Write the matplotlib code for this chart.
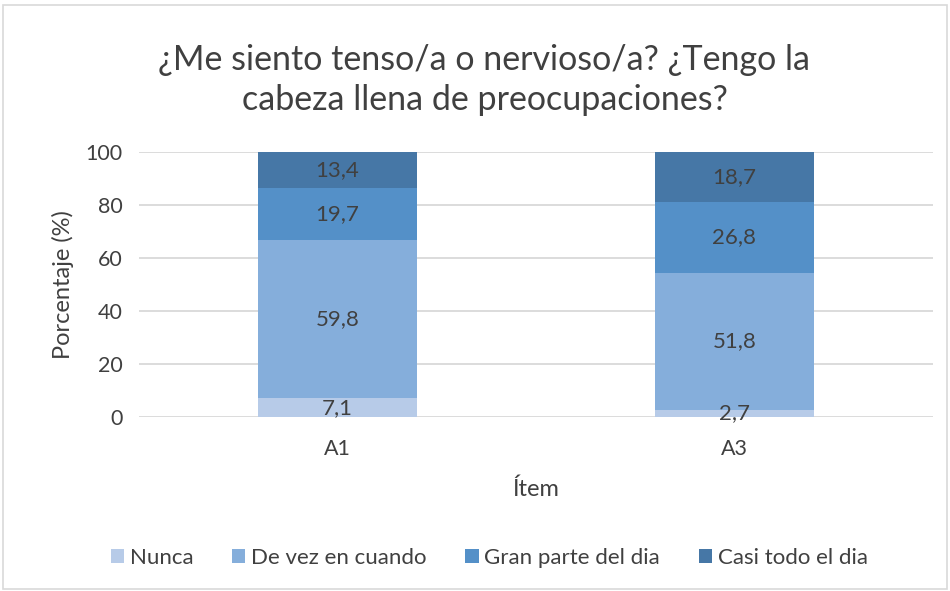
import numpy as np
import matplotlib.pyplot as plt
from matplotlib.patches import Rectangle

plt.rcParams['font.family'] = ['Lato', 'DejaVu Sans']

items = ['A1', 'A3']
series = ['Nunca', 'De vez en cuando', 'Gran parte del dia', 'Casi todo el dia']
nunca = [7.1, 2.7]
de_vez = [59.8, 51.8]
gran_parte = [19.7, 26.8]
casi_todo = [13.4, 18.7]
colors = ['#B7CBE8', '#85AEDB', '#5490C8', '#4677A6']

text_color = '#404040'

fig = plt.figure(figsize=(9.5, 5.91), dpi=100)
ax = fig.add_axes([0.1463, 0.2944, 0.8357, 0.4484])

x = np.arange(len(items))
bottom = np.zeros(len(items))
for name, vals, col in zip(series, [nunca, de_vez, gran_parte, casi_todo], colors):
    vals = np.array(vals)
    ax.bar(x, vals, width=0.4, bottom=bottom, color=col, label=name, zorder=3)
    for xi, b, v in zip(x, bottom, vals):
        ax.text(xi, b + v / 2, f'{v:.1f}'.replace('.', ','), ha='center', va='center',
                fontsize=16, color=text_color, zorder=4)
    bottom += vals

ax.set_xlim(-0.5, 1.5)
ax.set_ylim(0, 100)
ax.set_yticks(range(0, 101, 20))
ax.set_xticks(x)
ax.set_xticklabels(items)
ax.grid(axis='y', color='#D9D9D9', linewidth=1.3, zorder=0)
ax.tick_params(axis='both', length=0, labelsize=15.5, colors=text_color)
ax.tick_params(axis='x', pad=16)
ax.tick_params(axis='y', pad=12)
for s in ax.spines.values():
    s.set_visible(False)

ax.set_ylabel('Porcentaje (%)', fontsize=17, color=text_color, labelpad=8)
ax.set_xlabel('Ítem', fontsize=17, color=text_color, labelpad=14)

fig.text(0.51, 0.865, '¿Me siento tenso/a o nervioso/a? ¿Tengo la\ncabeza llena de preocupaciones?',
         ha='center', va='center', fontsize=24.5, color=text_color, linespacing=1.3)

fig.legend(loc='center', bbox_to_anchor=(0.515, 0.056), ncol=4, frameon=False,
           fontsize=16, labelcolor=text_color, handlelength=0.6, handleheight=0.6,
           handletextpad=0.25, columnspacing=1.75)

fig.patches.append(Rectangle((0.003, 0.003), 0.994, 0.988, transform=fig.transFigure,
                             fill=False, edgecolor='#D9D9D9', linewidth=1.2))

fig.savefig('out.png', dpi=100)
